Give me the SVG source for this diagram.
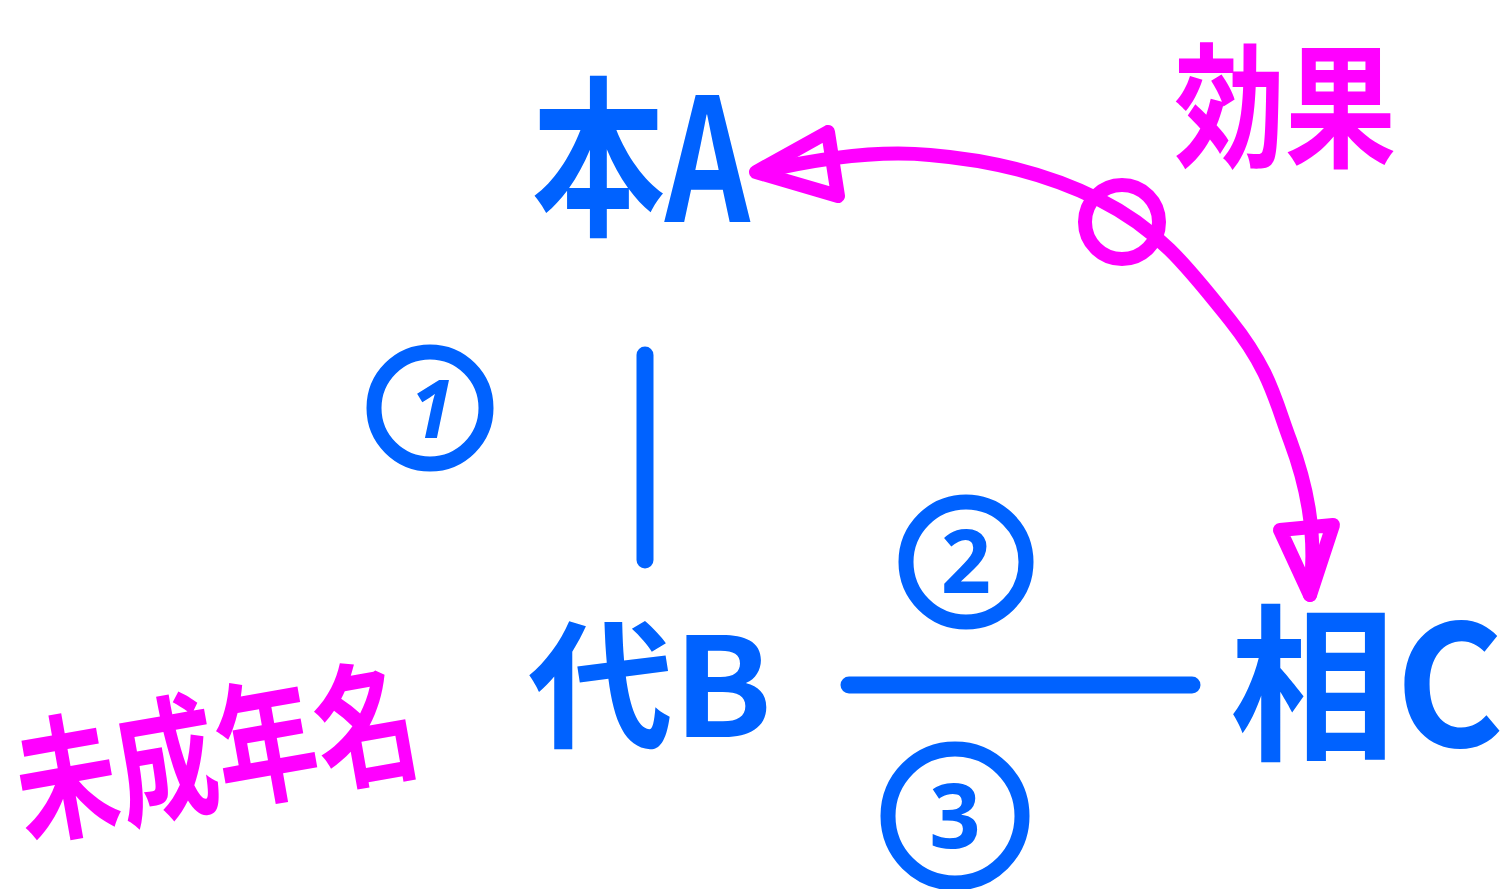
<svg xmlns="http://www.w3.org/2000/svg" width="1508" height="889" viewBox="0 0 1508 889">
<style>
.b{fill:#0062FF;font-family:"Noto Sans CJK JP","Noto Sans",sans-serif;font-weight:bold}
.m{fill:#FF00FF;font-family:"Noto Sans CJK JP","Noto Sans",sans-serif;font-weight:bold}
.ring{fill:none;stroke:#0062FF;stroke-width:15}
.num{fill:#0062FF;font-family:"Noto Sans","DejaVu Sans",sans-serif;font-weight:bold;text-anchor:middle}
.bl{stroke:#0062FF;stroke-width:17;stroke-linecap:round;fill:none}
.ml{stroke:#FF00FF;stroke-width:14;stroke-linecap:round;stroke-linejoin:round;fill:none}
</style>
<rect width="1508" height="889" fill="#ffffff"/>
<g id="nodeA"><text class="b" x="532" y="222" font-size="172" textLength="218" lengthAdjust="spacingAndGlyphs">本A</text></g>
<g id="nodeB"><text class="b" x="528" y="737" font-size="138" textLength="244" lengthAdjust="spacingAndGlyphs">代B</text></g>
<g id="nodeC"><text class="b" x="1230" y="747" font-size="168" textLength="274" lengthAdjust="spacingAndGlyphs">相C</text></g>
<g id="effect"><text class="m" x="1174" y="157" font-size="135" textLength="222" lengthAdjust="spacingAndGlyphs">効果</text></g>
<g id="bottomLabel"><text class="m" x="25" y="836" font-size="135" textLength="405" lengthAdjust="spacingAndGlyphs" transform="rotate(-10 25 836)">未成年名</text></g>
<g id="n1"><circle class="ring" cx="430" cy="408" r="56"/><text class="num" x="432" y="438" font-size="80" font-style="italic">1</text></g>
<g id="n2"><circle class="ring" cx="966" cy="562" r="60"/><text class="num" x="966" y="593" font-size="88">2</text></g>
<g id="n3"><circle class="ring" cx="955" cy="816" r="67"/><text class="num" x="955" y="848" font-size="90">3</text></g>
<g id="connectors">
<line class="bl" x1="645" y1="355" x2="645" y2="560"/>
<line class="bl" x1="849" y1="685" x2="1192" y2="685"/>
<path class="ml" d="M760 172 C820 158 880 150 930 155 C990 160 1050 175 1100 200 C1160 230 1190 270 1230 320 C1270 370 1275 400 1290 440 C1305 480 1318 530 1310 595"/>
<circle class="ml" cx="1122" cy="222" r="37"/>
<path class="ml" d="M828 132 L756 172 L838 196 Z"/>
<path class="ml" d="M1280 530 L1310 595 L1333 525 Z"/>
</g>
</svg>
